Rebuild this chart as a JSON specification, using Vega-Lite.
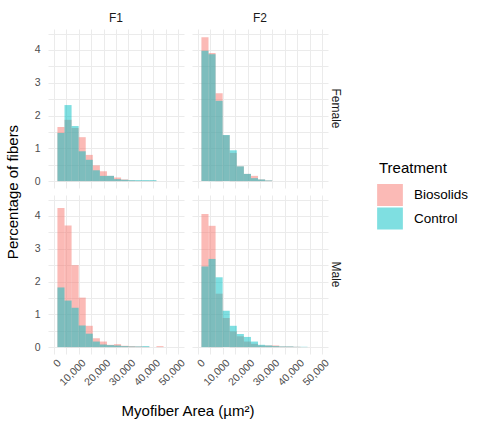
{
  "$schema": "https://vega.github.io/schema/vega-lite/v6.json",
  "background": "white",
  "padding": {"left": 5, "right": 5, "top": 12, "bottom": 5},
  "data": {
    "values": [
      {"gen": "F1", "sex": "Female", "treatment": "Biosolids", "start": 1400, "end": 4250, "pct": 1.65},
      {"gen": "F1", "sex": "Female", "treatment": "Biosolids", "start": 4250, "end": 7100, "pct": 1.87},
      {"gen": "F1", "sex": "Female", "treatment": "Biosolids", "start": 7100, "end": 9950, "pct": 1.62},
      {"gen": "F1", "sex": "Female", "treatment": "Biosolids", "start": 9950, "end": 12800, "pct": 1.34},
      {"gen": "F1", "sex": "Female", "treatment": "Biosolids", "start": 12800, "end": 15650, "pct": 0.8},
      {"gen": "F1", "sex": "Female", "treatment": "Biosolids", "start": 15650, "end": 18500, "pct": 0.48},
      {"gen": "F1", "sex": "Female", "treatment": "Biosolids", "start": 18500, "end": 21350, "pct": 0.3},
      {"gen": "F1", "sex": "Female", "treatment": "Biosolids", "start": 21350, "end": 24200, "pct": 0.16},
      {"gen": "F1", "sex": "Female", "treatment": "Biosolids", "start": 24200, "end": 27050, "pct": 0.11},
      {"gen": "F1", "sex": "Female", "treatment": "Biosolids", "start": 27050, "end": 29900, "pct": 0.05},
      {"gen": "F1", "sex": "Female", "treatment": "Biosolids", "start": 29900, "end": 32750, "pct": 0.02},
      {"gen": "F1", "sex": "Female", "treatment": "Biosolids", "start": 32750, "end": 35600, "pct": 0.01},
      {"gen": "F1", "sex": "Female", "treatment": "Biosolids", "start": 35600, "end": 38450, "pct": 0.01},
      {"gen": "F1", "sex": "Female", "treatment": "Biosolids", "start": 38450, "end": 41300, "pct": 0.01},

      {"gen": "F2", "sex": "Female", "treatment": "Biosolids", "start": 1400, "end": 4250, "pct": 4.39},
      {"gen": "F2", "sex": "Female", "treatment": "Biosolids", "start": 4250, "end": 7100, "pct": 3.91},
      {"gen": "F2", "sex": "Female", "treatment": "Biosolids", "start": 7100, "end": 9950, "pct": 2.68},
      {"gen": "F2", "sex": "Female", "treatment": "Biosolids", "start": 9950, "end": 12800, "pct": 1.4},
      {"gen": "F2", "sex": "Female", "treatment": "Biosolids", "start": 12800, "end": 15650, "pct": 0.86},
      {"gen": "F2", "sex": "Female", "treatment": "Biosolids", "start": 15650, "end": 18500, "pct": 0.45},
      {"gen": "F2", "sex": "Female", "treatment": "Biosolids", "start": 18500, "end": 21350, "pct": 0.22},
      {"gen": "F2", "sex": "Female", "treatment": "Biosolids", "start": 21350, "end": 24200, "pct": 0.16},
      {"gen": "F2", "sex": "Female", "treatment": "Biosolids", "start": 24200, "end": 27050, "pct": 0.05},
      {"gen": "F2", "sex": "Female", "treatment": "Biosolids", "start": 27050, "end": 29900, "pct": 0.02},

      {"gen": "F1", "sex": "Male", "treatment": "Biosolids", "start": 1400, "end": 4250, "pct": 4.24},
      {"gen": "F1", "sex": "Male", "treatment": "Biosolids", "start": 4250, "end": 7100, "pct": 3.71},
      {"gen": "F1", "sex": "Male", "treatment": "Biosolids", "start": 7100, "end": 9950, "pct": 2.5},
      {"gen": "F1", "sex": "Male", "treatment": "Biosolids", "start": 9950, "end": 12800, "pct": 1.51},
      {"gen": "F1", "sex": "Male", "treatment": "Biosolids", "start": 12800, "end": 15650, "pct": 0.65},
      {"gen": "F1", "sex": "Male", "treatment": "Biosolids", "start": 15650, "end": 18500, "pct": 0.27},
      {"gen": "F1", "sex": "Male", "treatment": "Biosolids", "start": 18500, "end": 21350, "pct": 0.17},
      {"gen": "F1", "sex": "Male", "treatment": "Biosolids", "start": 21350, "end": 24200, "pct": 0.07},
      {"gen": "F1", "sex": "Male", "treatment": "Biosolids", "start": 24200, "end": 27050, "pct": 0.09},
      {"gen": "F1", "sex": "Male", "treatment": "Biosolids", "start": 27050, "end": 29900, "pct": 0.04},
      {"gen": "F1", "sex": "Male", "treatment": "Biosolids", "start": 29900, "end": 32750, "pct": 0.03},
      {"gen": "F1", "sex": "Male", "treatment": "Biosolids", "start": 32750, "end": 35600, "pct": 0.02},
      {"gen": "F1", "sex": "Male", "treatment": "Biosolids", "start": 35600, "end": 38450, "pct": 0.01},
      {"gen": "F1", "sex": "Male", "treatment": "Biosolids", "start": 41300, "end": 44150, "pct": 0.03},

      {"gen": "F2", "sex": "Male", "treatment": "Biosolids", "start": 1400, "end": 4250, "pct": 4.06},
      {"gen": "F2", "sex": "Male", "treatment": "Biosolids", "start": 4250, "end": 7100, "pct": 3.7},
      {"gen": "F2", "sex": "Male", "treatment": "Biosolids", "start": 7100, "end": 9950, "pct": 1.63},
      {"gen": "F2", "sex": "Male", "treatment": "Biosolids", "start": 9950, "end": 12800, "pct": 0.89},
      {"gen": "F2", "sex": "Male", "treatment": "Biosolids", "start": 12800, "end": 15650, "pct": 0.48},
      {"gen": "F2", "sex": "Male", "treatment": "Biosolids", "start": 15650, "end": 18500, "pct": 0.33},
      {"gen": "F2", "sex": "Male", "treatment": "Biosolids", "start": 18500, "end": 21350, "pct": 0.17},
      {"gen": "F2", "sex": "Male", "treatment": "Biosolids", "start": 21350, "end": 24200, "pct": 0.1},
      {"gen": "F2", "sex": "Male", "treatment": "Biosolids", "start": 24200, "end": 27050, "pct": 0.05},
      {"gen": "F2", "sex": "Male", "treatment": "Biosolids", "start": 27050, "end": 29900, "pct": 0.05},
      {"gen": "F2", "sex": "Male", "treatment": "Biosolids", "start": 29900, "end": 32750, "pct": 0.05},
      {"gen": "F2", "sex": "Male", "treatment": "Biosolids", "start": 32750, "end": 35600, "pct": 0.02},
      {"gen": "F2", "sex": "Male", "treatment": "Biosolids", "start": 35600, "end": 38450, "pct": 0.02},
      {"gen": "F2", "sex": "Male", "treatment": "Biosolids", "start": 38450, "end": 41300, "pct": 0.01},

      {"gen": "F1", "sex": "Female", "treatment": "Control", "start": 1400, "end": 4250, "pct": 1.47},
      {"gen": "F1", "sex": "Female", "treatment": "Control", "start": 4250, "end": 7100, "pct": 2.32},
      {"gen": "F1", "sex": "Female", "treatment": "Control", "start": 7100, "end": 9950, "pct": 1.68},
      {"gen": "F1", "sex": "Female", "treatment": "Control", "start": 9950, "end": 12800, "pct": 0.91},
      {"gen": "F1", "sex": "Female", "treatment": "Control", "start": 12800, "end": 15650, "pct": 0.65},
      {"gen": "F1", "sex": "Female", "treatment": "Control", "start": 15650, "end": 18500, "pct": 0.33},
      {"gen": "F1", "sex": "Female", "treatment": "Control", "start": 18500, "end": 21350, "pct": 0.16},
      {"gen": "F1", "sex": "Female", "treatment": "Control", "start": 21350, "end": 24200, "pct": 0.16},
      {"gen": "F1", "sex": "Female", "treatment": "Control", "start": 24200, "end": 27050, "pct": 0.06},
      {"gen": "F1", "sex": "Female", "treatment": "Control", "start": 27050, "end": 29900, "pct": 0.04},
      {"gen": "F1", "sex": "Female", "treatment": "Control", "start": 29900, "end": 32750, "pct": 0.03},
      {"gen": "F1", "sex": "Female", "treatment": "Control", "start": 32750, "end": 35600, "pct": 0.03},
      {"gen": "F1", "sex": "Female", "treatment": "Control", "start": 35600, "end": 38450, "pct": 0.03},
      {"gen": "F1", "sex": "Female", "treatment": "Control", "start": 38450, "end": 41300, "pct": 0.03},

      {"gen": "F2", "sex": "Female", "treatment": "Control", "start": 1400, "end": 4250, "pct": 3.98},
      {"gen": "F2", "sex": "Female", "treatment": "Control", "start": 4250, "end": 7100, "pct": 3.87},
      {"gen": "F2", "sex": "Female", "treatment": "Control", "start": 7100, "end": 9950, "pct": 2.45},
      {"gen": "F2", "sex": "Female", "treatment": "Control", "start": 9950, "end": 12800, "pct": 1.41},
      {"gen": "F2", "sex": "Female", "treatment": "Control", "start": 12800, "end": 15650, "pct": 0.94},
      {"gen": "F2", "sex": "Female", "treatment": "Control", "start": 15650, "end": 18500, "pct": 0.45},
      {"gen": "F2", "sex": "Female", "treatment": "Control", "start": 18500, "end": 21350, "pct": 0.22},
      {"gen": "F2", "sex": "Female", "treatment": "Control", "start": 21350, "end": 24200, "pct": 0.09},
      {"gen": "F2", "sex": "Female", "treatment": "Control", "start": 24200, "end": 27050, "pct": 0.05},
      {"gen": "F2", "sex": "Female", "treatment": "Control", "start": 27050, "end": 29900, "pct": 0.02},

      {"gen": "F1", "sex": "Male", "treatment": "Control", "start": 1400, "end": 4250, "pct": 1.82},
      {"gen": "F1", "sex": "Male", "treatment": "Control", "start": 4250, "end": 7100, "pct": 1.42},
      {"gen": "F1", "sex": "Male", "treatment": "Control", "start": 7100, "end": 9950, "pct": 1.2},
      {"gen": "F1", "sex": "Male", "treatment": "Control", "start": 9950, "end": 12800, "pct": 0.66},
      {"gen": "F1", "sex": "Male", "treatment": "Control", "start": 12800, "end": 15650, "pct": 0.41},
      {"gen": "F1", "sex": "Male", "treatment": "Control", "start": 15650, "end": 18500, "pct": 0.17},
      {"gen": "F1", "sex": "Male", "treatment": "Control", "start": 18500, "end": 21350, "pct": 0.08},
      {"gen": "F1", "sex": "Male", "treatment": "Control", "start": 21350, "end": 24200, "pct": 0.06},
      {"gen": "F1", "sex": "Male", "treatment": "Control", "start": 24200, "end": 27050, "pct": 0.05},
      {"gen": "F1", "sex": "Male", "treatment": "Control", "start": 27050, "end": 29900, "pct": 0.03},
      {"gen": "F1", "sex": "Male", "treatment": "Control", "start": 29900, "end": 32750, "pct": 0.02},
      {"gen": "F1", "sex": "Male", "treatment": "Control", "start": 32750, "end": 35600, "pct": 0.02},
      {"gen": "F1", "sex": "Male", "treatment": "Control", "start": 35600, "end": 38450, "pct": 0.03},

      {"gen": "F2", "sex": "Male", "treatment": "Control", "start": 1400, "end": 4250, "pct": 2.46},
      {"gen": "F2", "sex": "Male", "treatment": "Control", "start": 4250, "end": 7100, "pct": 2.69},
      {"gen": "F2", "sex": "Male", "treatment": "Control", "start": 7100, "end": 9950, "pct": 2.13},
      {"gen": "F2", "sex": "Male", "treatment": "Control", "start": 9950, "end": 12800, "pct": 1.11},
      {"gen": "F2", "sex": "Male", "treatment": "Control", "start": 12800, "end": 15650, "pct": 0.65},
      {"gen": "F2", "sex": "Male", "treatment": "Control", "start": 15650, "end": 18500, "pct": 0.4},
      {"gen": "F2", "sex": "Male", "treatment": "Control", "start": 18500, "end": 21350, "pct": 0.31},
      {"gen": "F2", "sex": "Male", "treatment": "Control", "start": 21350, "end": 24200, "pct": 0.17},
      {"gen": "F2", "sex": "Male", "treatment": "Control", "start": 24200, "end": 27050, "pct": 0.07},
      {"gen": "F2", "sex": "Male", "treatment": "Control", "start": 27050, "end": 29900, "pct": 0.05},
      {"gen": "F2", "sex": "Male", "treatment": "Control", "start": 29900, "end": 32750, "pct": 0.03},
      {"gen": "F2", "sex": "Male", "treatment": "Control", "start": 32750, "end": 35600, "pct": 0.02},
      {"gen": "F2", "sex": "Male", "treatment": "Control", "start": 35600, "end": 38450, "pct": 0.02},
      {"gen": "F2", "sex": "Male", "treatment": "Control", "start": 38450, "end": 41300, "pct": 0.01},
      {"gen": "F2", "sex": "Male", "treatment": "Control", "start": 41300, "end": 44150, "pct": 0.01}
    ]
  },
  "facet": {
    "column": {
      "field": "gen",
      "type": "nominal",
      "header": {
        "title": "Myofiber Area (µm²)",
        "titleOrient": "bottom",
        "titleFontSize": 15,
        "titleFontWeight": "normal",
        "titleColor": "#000000",
        "titlePadding": 6,
        "labelFontSize": 12,
        "labelColor": "#1A1A1A",
        "labelPadding": 4
      }
    },
    "row": {
      "field": "sex",
      "type": "nominal",
      "header": {
        "title": "Percentage of fibers",
        "titleOrient": "left",
        "titleFontSize": 15,
        "titleFontWeight": "normal",
        "titleColor": "#000000",
        "titlePadding": 3,
        "labelOrient": "right",
        "labelAngle": 90,
        "labelFontSize": 12,
        "labelColor": "#1A1A1A",
        "labelPadding": 1
      }
    }
  },
  "spacing": {"row": 7, "column": 8},
  "spec": {
    "width": 136,
    "height": 159,
    "mark": {"type": "rect", "opacity": 0.5, "strokeWidth": 0},
    "encoding": {
      "x": {
        "field": "start",
        "type": "quantitative",
        "title": null,
        "scale": {"domain": [-2400, 52400], "nice": false, "zero": false},
        "axis": {
          "values": [0, 5000, 10000, 15000, 20000, 25000, 30000, 35000, 40000, 45000, 50000],
          "labelExpr": "datum.value % 10000 === 0 ? format(datum.value, ',') : ''",
          "labelOverlap": false,
          "labelAngle": -45,
          "labelAlign": "right",
          "labelBaseline": "middle",
          "labelOffset": 5,
          "labelPadding": 7
        }
      },
      "x2": {"field": "end"},
      "y": {
        "field": "pct",
        "type": "quantitative",
        "title": null,
        "scale": {"domain": [-0.21, 4.64], "nice": false, "zero": false},
        "axis": {
          "values": [0, 0.5, 1, 1.5, 2, 2.5, 3, 3.5, 4, 4.5],
          "labelExpr": "datum.value % 1 === 0 ? datum.value : ''",
          "labelOverlap": false,
          "labelPadding": 8
        }
      },
      "y2": {"datum": 0},
      "color": {
        "field": "treatment",
        "type": "nominal",
        "title": "Treatment",
        "scale": {"domain": ["Biosolids", "Control"], "range": ["#F8766D", "#00BFC4"]},
        "legend": {
          "orient": "none",
          "legendX": 331,
          "legendY": 132
        }
      }
    }
  },
  "config": {
    "font": "Liberation Sans",
    "view": {"stroke": null},
    "axis": {
      "domain": false,
      "ticks": false,
      "tickSize": 0,
      "grid": true,
      "gridColor": "#EBEBEB",
      "gridWidth": 1,
      "labelFontSize": 10.5,
      "labelColor": "#4D4D4D"
    },
    "header": {"labelFont": "Liberation Sans", "titleFont": "Liberation Sans"},
    "legend": {
      "titleFontSize": 15,
      "titleFontWeight": "normal",
      "titleColor": "#000000",
      "titlePadding": 8,
      "labelFontSize": 13.5,
      "labelColor": "#000000",
      "labelOffset": 13,
      "symbolType": "M-1.17,-1H1.17V1H-1.17Z",
      "symbolSize": 484,
      "symbolOpacity": 0.5,
      "symbolStrokeWidth": 0,
      "rowPadding": 1.5
    }
  }
}
